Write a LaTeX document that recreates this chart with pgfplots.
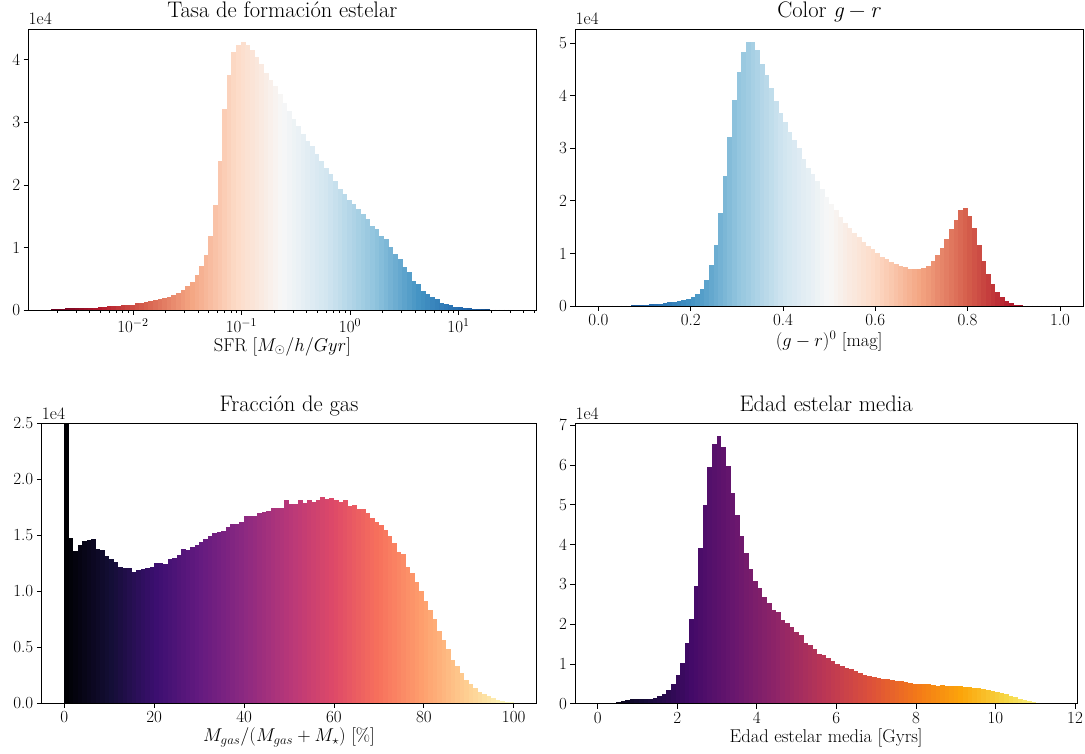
\RequirePackage{fix-cm}
\documentclass[border=0pt]{standalone}
\usepackage{pgfplots}
\usepackage{pgfplotstable}
\pgfplotsset{compat=1.18}

\pgfplotsset{
 colormap={rdbu}{rgb255=(103,0,31) rgb255=(178,24,43) rgb255=(214,96,77) rgb255=(244,165,130) rgb255=(253,219,199) rgb255=(247,247,247) rgb255=(209,229,240) rgb255=(146,197,222) rgb255=(67,147,195) rgb255=(33,102,172) rgb255=(5,48,97)},
 colormap={rdbur}{rgb255=(5,48,97) rgb255=(33,102,172) rgb255=(67,147,195) rgb255=(146,197,222) rgb255=(209,229,240) rgb255=(247,247,247) rgb255=(253,219,199) rgb255=(244,165,130) rgb255=(214,96,77) rgb255=(178,24,43) rgb255=(103,0,31)},
 colormap={magma}{rgb255=(0,0,4) rgb255=(20,14,54) rgb255=(59,15,112) rgb255=(100,26,128) rgb255=(140,41,129) rgb255=(183,55,121) rgb255=(222,73,104) rgb255=(247,112,92) rgb255=(254,159,109) rgb255=(254,207,146) rgb255=(252,253,191)},
 colormap={inferno}{rgb255=(0,0,4) rgb255=(22,11,57) rgb255=(66,10,104) rgb255=(106,23,110) rgb255=(147,38,103) rgb255=(188,55,84) rgb255=(221,81,58) rgb255=(243,120,25) rgb255=(252,165,10) rgb255=(246,215,70) rgb255=(252,255,164)},
 hist/.style={
   scale only axis, anchor=south west, axis on top,
   tick pos=left, tick align=outside,
   major tick length=4.9pt, minor tick length=2.8pt,
   tick style={black, line width=0.8pt},
   axis line style={black, line width=0.8pt},
   /pgf/number format/assume math mode=true,
   tick label style={font=\fontsize{17}{20}\selectfont},
   label style={font=\fontsize{18.5}{21}\selectfont},
   xlabel style={yshift=2pt},
   title style={font=\fontsize{22.5}{25}\selectfont, at={(0.5,1)}, anchor=base, inner sep=0pt, yshift=5.5pt},
   ymin=0, scaled y ticks=false,
   extra description/.code={\node[anchor=base west, inner sep=0pt, font=\fontsize{17.5}{20}\selectfont, yshift=4pt] at (0,1) {1e4};},
 },
 bars/.style={point meta=x, quiver={u=0, v=\thisrow{h}, colored=mapped color, every arrow/.append style={line width=#1}}},
}

% Tasa de formacion estelar: x = log10(SFR) bin centre, h in units of 1e4
\pgfplotstableread[row sep=\\]{
x h\\
-2.7287 0.021\\ -2.6862 0.021\\ -2.6436 0.021\\ -2.6011 0.037\\ -2.5585 0.037\\ -2.5160 0.037\\ -2.4735 0.037\\ -2.4309 0.037\\ -2.3884 0.037\\ -2.3458 0.037\\
-2.3033 0.053\\ -2.2607 0.053\\ -2.2182 0.07\\ -2.1757 0.07\\ -2.1331 0.07\\ -2.0906 0.085\\ -2.0480 0.085\\ -2.0055 0.085\\ -1.9630 0.107\\ -1.9204 0.107\\
-1.8779 0.123\\ -1.8353 0.139\\ -1.7928 0.155\\ -1.7502 0.171\\ -1.7077 0.192\\ -1.6652 0.214\\ -1.6226 0.246\\ -1.5801 0.278\\ -1.5375 0.326\\ -1.4950 0.39\\
-1.4525 0.454\\ -1.4099 0.566\\ -1.3674 0.705\\ -1.3248 0.887\\ -1.2823 1.19\\ -1.2397 1.68\\ -1.1972 2.38\\ -1.1547 3.21\\ -1.1121 3.76\\ -1.0696 4.12\\
-1.0270 4.24\\ -0.9845 4.28\\ -0.9420 4.24\\ -0.8994 4.16\\ -0.8569 4.04\\ -0.8143 3.94\\ -0.7718 3.79\\ -0.7292 3.68\\ -0.6867 3.59\\ -0.6442 3.45\\
-0.6016 3.31\\ -0.5591 3.18\\ -0.5165 3.06\\ -0.4740 2.94\\ -0.4315 2.81\\ -0.3889 2.71\\ -0.3464 2.62\\ -0.3038 2.50\\ -0.2613 2.39\\ -0.2187 2.27\\
-0.1762 2.18\\ -0.1337 2.06\\ -0.0911 1.94\\ -0.0486 1.86\\ -0.0060 1.76\\ 0.0365 1.70\\ 0.0790 1.61\\ 0.1216 1.53\\ 0.1641 1.46\\ 0.2067 1.35\\
0.2492 1.29\\ 0.2918 1.19\\ 0.3343 1.13\\ 0.3768 1.01\\ 0.4194 0.89\\ 0.4619 0.81\\ 0.5045 0.68\\ 0.5470 0.60\\ 0.5895 0.47\\ 0.6321 0.41\\
0.6746 0.31\\ 0.7172 0.25\\ 0.7597 0.21\\ 0.8023 0.17\\ 0.8448 0.11\\ 0.8873 0.096\\ 0.9299 0.085\\ 0.9724 0.053\\ 1.0150 0.053\\ 1.0575 0.037\\
1.1000 0.037\\ 1.1426 0.02\\ 1.1851 0.02\\ 1.2277 0.02\\ 1.2702 0.02\\ 1.3127 0.004\\ 1.3553 0.003\\ 1.3978 0.002\\ 1.4404 0.001\\ 1.4829 0.001\\
}\tSFR

% Color g-r
\pgfplotstableread[row sep=\\]{
x h\\
0.005 0.001\\ 0.015 0.001\\ 0.025 0.002\\ 0.035 0.002\\ 0.045 0.003\\ 0.055 0.004\\ 0.065 0.006\\ 0.075 0.010\\ 0.085 0.013\\ 0.095 0.015\\
0.105 0.022\\ 0.115 0.035\\ 0.125 0.04\\ 0.135 0.045\\ 0.145 0.06\\ 0.155 0.075\\ 0.165 0.085\\ 0.175 0.10\\ 0.185 0.12\\ 0.195 0.14\\
0.205 0.18\\ 0.215 0.23\\ 0.225 0.32\\ 0.235 0.50\\ 0.245 0.78\\ 0.255 1.17\\ 0.265 1.77\\ 0.275 2.47\\ 0.285 3.21\\ 0.295 3.92\\
0.305 4.45\\ 0.315 4.83\\ 0.325 5.02\\ 0.335 5.02\\ 0.345 4.87\\ 0.355 4.61\\ 0.365 4.40\\ 0.375 4.14\\ 0.385 3.90\\ 0.395 3.67\\
0.405 3.50\\ 0.415 3.31\\ 0.425 3.15\\ 0.435 3.01\\ 0.445 2.80\\ 0.455 2.63\\ 0.465 2.51\\ 0.475 2.38\\ 0.485 2.23\\ 0.495 2.07\\
0.505 1.95\\ 0.515 1.82\\ 0.525 1.69\\ 0.535 1.57\\ 0.545 1.48\\ 0.555 1.39\\ 0.565 1.31\\ 0.575 1.22\\ 0.585 1.14\\ 0.595 1.08\\
0.605 1.01\\ 0.615 0.93\\ 0.625 0.89\\ 0.635 0.84\\ 0.645 0.80\\ 0.655 0.76\\ 0.665 0.74\\ 0.675 0.70\\ 0.685 0.70\\ 0.695 0.70\\
0.705 0.72\\ 0.715 0.76\\ 0.725 0.86\\ 0.735 0.97\\ 0.745 1.10\\ 0.755 1.28\\ 0.765 1.47\\ 0.775 1.64\\ 0.785 1.83\\ 0.795 1.87\\
0.805 1.71\\ 0.815 1.48\\ 0.825 1.16\\ 0.835 0.86\\ 0.845 0.61\\ 0.855 0.42\\ 0.865 0.27\\ 0.875 0.17\\ 0.885 0.095\\ 0.895 0.05\\
0.905 0.025\\ 0.915 0.013\\ 0.925 0.008\\ 0.935 0.005\\ 0.945 0.004\\ 0.955 0.003\\ 0.965 0.002\\ 0.975 0.002\\ 0.985 0.001\\ 0.995 0.001\\
}\tGR

% Fraccion de gas
\pgfplotstableread[row sep=\\]{
x h\\
0.5 3.2\\ 1.5 1.475\\ 2.5 1.36\\ 3.5 1.41\\ 4.5 1.45\\ 5.5 1.46\\ 6.5 1.47\\ 7.5 1.38\\ 8.5 1.37\\ 9.5 1.31\\
10.5 1.29\\ 11.5 1.26\\ 12.5 1.22\\ 13.5 1.21\\ 14.5 1.21\\ 15.5 1.17\\ 16.5 1.19\\ 17.5 1.20\\ 18.5 1.21\\ 19.5 1.22\\
20.5 1.25\\ 21.5 1.25\\ 22.5 1.24\\ 23.5 1.29\\ 24.5 1.30\\ 25.5 1.32\\ 26.5 1.38\\ 27.5 1.37\\ 28.5 1.39\\ 29.5 1.41\\
30.5 1.44\\ 31.5 1.47\\ 32.5 1.49\\ 33.5 1.52\\ 34.5 1.53\\ 35.5 1.54\\ 36.5 1.57\\ 37.5 1.60\\ 38.5 1.60\\ 39.5 1.62\\
40.5 1.67\\ 41.5 1.67\\ 42.5 1.67\\ 43.5 1.70\\ 44.5 1.71\\ 45.5 1.72\\ 46.5 1.74\\ 47.5 1.74\\ 48.5 1.74\\ 49.5 1.81\\
50.5 1.78\\ 51.5 1.78\\ 52.5 1.815\\ 53.5 1.79\\ 54.5 1.815\\ 55.5 1.80\\ 56.5 1.81\\ 57.5 1.84\\ 58.5 1.82\\ 59.5 1.83\\
60.5 1.81\\ 61.5 1.80\\ 62.5 1.81\\ 63.5 1.76\\ 64.5 1.77\\ 65.5 1.73\\ 66.5 1.73\\ 67.5 1.70\\ 68.5 1.65\\ 69.5 1.62\\
70.5 1.59\\ 71.5 1.55\\ 72.5 1.49\\ 73.5 1.43\\ 74.5 1.35\\ 75.5 1.33\\ 76.5 1.22\\ 77.5 1.16\\ 78.5 1.08\\ 79.5 1.00\\
80.5 0.91\\ 81.5 0.83\\ 82.5 0.75\\ 83.5 0.64\\ 84.5 0.56\\ 85.5 0.48\\ 86.5 0.38\\ 87.5 0.33\\ 88.5 0.27\\ 89.5 0.21\\
90.5 0.17\\ 91.5 0.13\\ 92.5 0.10\\ 93.5 0.08\\ 94.5 0.063\\ 95.5 0.045\\ 96.5 0.027\\ 97.5 0.018\\ 98.5 0.009\\ 99.5 0.006\\
}\tGAS

% Edad estelar media
\pgfplotstableread[row sep=\\]{
x h\\
0.0674 0.002\\ 0.1821 0.004\\ 0.2968 0.008\\ 0.4115 0.017\\ 0.5262 0.04\\ 0.6409 0.067\\ 0.7556 0.09\\ 0.8703 0.11\\ 0.9850 0.117\\ 1.0997 0.125\\
1.2144 0.125\\ 1.3291 0.125\\ 1.4438 0.15\\ 1.5585 0.20\\ 1.6732 0.25\\ 1.7879 0.35\\ 1.9026 0.50\\ 2.0173 0.73\\ 2.1320 1.03\\ 2.2467 1.53\\
2.3614 2.13\\ 2.4761 2.96\\ 2.5908 3.92\\ 2.7055 5.00\\ 2.8202 5.95\\ 2.9349 6.53\\ 3.0496 6.72\\ 3.1643 6.45\\ 3.2790 5.97\\ 3.3937 5.30\\
3.5084 4.74\\ 3.6231 4.22\\ 3.7378 3.80\\ 3.8525 3.39\\ 3.9672 3.09\\ 4.0819 2.92\\ 4.1966 2.68\\ 4.3113 2.53\\ 4.4260 2.35\\ 4.5407 2.30\\
4.6554 2.10\\ 4.7701 2.03\\ 4.8848 1.92\\ 4.9995 1.80\\ 5.1142 1.72\\ 5.2289 1.52\\ 5.3436 1.47\\ 5.4583 1.37\\ 5.5730 1.25\\ 5.6877 1.22\\
5.8024 1.15\\ 5.9171 1.07\\ 6.0318 1.00\\ 6.1465 0.95\\ 6.2612 0.90\\ 6.3759 0.87\\ 6.4906 0.82\\ 6.6053 0.77\\ 6.7200 0.72\\ 6.8347 0.69\\
6.9494 0.67\\ 7.0641 0.64\\ 7.1788 0.62\\ 7.2935 0.62\\ 7.4082 0.59\\ 7.5229 0.57\\ 7.6376 0.57\\ 7.7523 0.54\\ 7.8670 0.52\\ 7.9817 0.49\\
8.0964 0.49\\ 8.2111 0.49\\ 8.3258 0.49\\ 8.4405 0.47\\ 8.5552 0.44\\ 8.6699 0.47\\ 8.7846 0.44\\ 8.8993 0.44\\ 9.0140 0.44\\ 9.1287 0.44\\
9.2434 0.42\\ 9.3581 0.42\\ 9.4728 0.39\\ 9.5875 0.39\\ 9.7022 0.37\\ 9.8169 0.34\\ 9.9316 0.32\\ 10.0463 0.29\\ 10.1610 0.27\\ 10.2757 0.24\\
10.3904 0.19\\ 10.5051 0.17\\ 10.6198 0.12\\ 10.7345 0.09\\ 10.8492 0.07\\ 10.9639 0.04\\ 11.0786 0.017\\ 11.1933 0.008\\ 11.3080 0.004\\ 11.4227 0.002\\
}\tAGE

\begin{document}
\begin{tikzpicture}
\useasboundingbox (0,0) rectangle (1085pt,753pt);

\begin{axis}[hist, at={(28.5pt,443pt)}, width=507.8pt, height=281pt,
  xmin=-2.963, xmax=1.717, ymax=4.494,
  xtick={-2,-1,0,1}, xticklabels={$10^{-2}$,$10^{-1}$,$10^{0}$,$10^{1}$},
  minor xtick={-2.699,-2.523,-2.398,-2.301,-2.222,-2.155,-2.097,-2.046,
    -1.699,-1.523,-1.398,-1.301,-1.222,-1.155,-1.097,-1.046,
    -0.699,-0.523,-0.398,-0.301,-0.222,-0.155,-0.097,-0.046,
    0.301,0.477,0.602,0.699,0.778,0.845,0.903,0.954,
    1.301,1.477,1.602,1.699},
  ytick={0,1,2,3,4},
  colormap name=rdbu, point meta min=-2.7287, point meta max=1.4829,
  title={Tasa de formación estelar}, xlabel={SFR [$M_\odot/h/Gyr$]}]
\addplot[bars=4.9pt] table[x=x, y expr=0] {\tSFR};
\end{axis}

\begin{axis}[hist, at={(575.3pt,447pt)}, width=507.7pt, height=277pt,
  xmin=-0.05, xmax=1.05, ymax=5.271,
  xtick={0,0.2,0.4,0.6,0.8,1.0},
  xticklabel style={/pgf/number format/.cd, fixed, fixed zerofill, precision=1},
  ytick={0,1,2,3,4,5},
  colormap name=rdbur, point meta min=0.005, point meta max=0.995,
  title={Color \textit{g}\kern0.22em−\kern0.22em\textit{r}}, xlabel={$(g-r)^0$ [mag]}]
\addplot[bars=4.9pt] table[x=x, y expr=0] {\tGR};
\end{axis}

\begin{axis}[hist, at={(41.7pt,50pt)}, width=494.6pt, height=279.7pt,
  xmin=-5.03, xmax=105.03, ymax=2.5,
  xtick={0,20,40,60,80,100},
  ytick={0,0.5,1,1.5,2,2.5},
  yticklabel style={/pgf/number format/.cd, fixed, fixed zerofill, precision=1},
  colormap name=magma, point meta min=0.5, point meta max=99.5,
  title={Fracción de gas}, xlabel={$M_{gas}/(M_{gas}+M_\star)$ [\%]}]
\addplot[bars=4.75pt] table[x=x, y expr=0] {\tGAS};
\end{axis}

\begin{axis}[hist, at={(575.3pt,49.3pt)}, width=501.7pt, height=280.7pt,
  xmin=-0.563, xmax=12.05, ymax=7.056,
  xtick={0,2,4,6,8,10,12},
  ytick={0,1,2,3,4,5,6,7},
  colormap name=inferno, point meta min=0.0674, point meta max=11.4227,
  title={Edad estelar media}, xlabel={Edad estelar media [Gyrs]}]
\addplot[bars=4.85pt] table[x=x, y expr=0] {\tAGE};
\end{axis}

\end{tikzpicture}
\end{document}
